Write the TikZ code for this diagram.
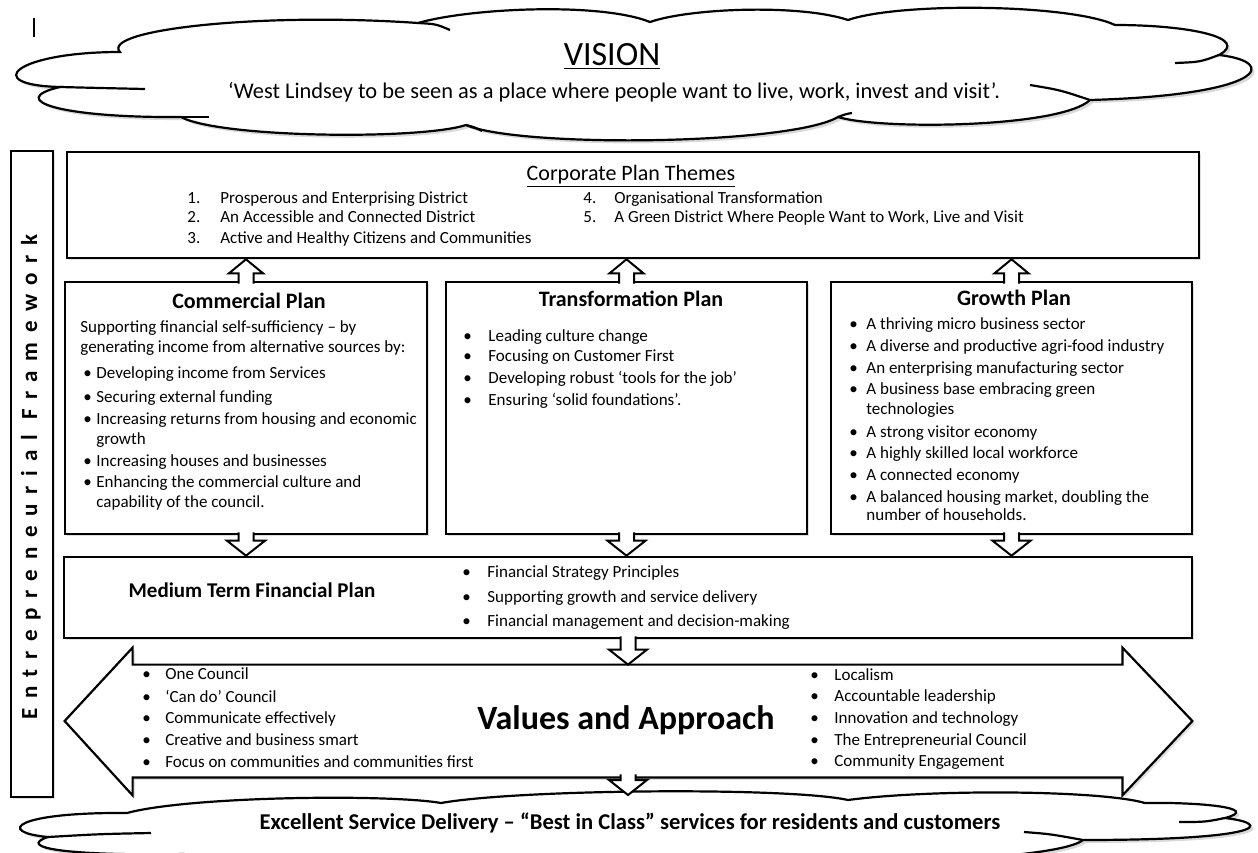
\documentclass[tikz,border=0pt]{standalone}
\usepackage{fontspec}
\setmainfont{Carlito}
\usetikzlibrary{calc,fit,shadows}

\newcommand\uparr[2]{\path[blockarr] ($(#1)+(-7.5,3)$) -- ($(#2)+(-7.5,14)$) -- ($(#2)+(-17,14)$) -- (#2) -- ($(#2)+(17,14)$) -- ($(#2)+(7.5,14)$) -- ($(#1)+(7.5,3)$);}
\newcommand\downarr[2]{\path[blockarr] ($(#1)+(-7.5,-3)$) -- ($(#2)+(-7.5,-15)$) -- ($(#2)+(-19,-15)$) -- (#2) -- ($(#2)+(19,-15)$) -- ($(#2)+(7.5,-15)$) -- ($(#1)+(7.5,-3)$);}

\begin{document}
\begin{tikzpicture}[x=0.5pt,y=-0.5pt,
  box/.style={draw, line width=1.3pt, fill=white, inner sep=0pt, drop shadow={opacity=0.25, shadow xshift=1.2pt, shadow yshift=-1.2pt}},
  blockarr/.style={fill=white, draw, line width=1pt},
  bigarrow/.style={fill=white, draw, line width=1.1pt, drop shadow={opacity=0.25, shadow xshift=1.2pt, shadow yshift=-1.2pt}},
  cloudline/.style={draw, fill=white, line width=1.1pt, drop shadow={opacity=0.3, shadow xshift=1.5pt, shadow yshift=-1.5pt}},
  tail/.style={line width=1.1pt},
  txt/.style={anchor=base west, inner sep=0pt, font=\fontsize{8.5}{10}\selectfont, yshift=-2.4pt},
  ttl/.style={anchor=base, inner sep=0pt, font=\fontsize{11}{13}\selectfont\bfseries}]
\useasboundingbox (0,0) rectangle (1258,852);
\clip (0,0) rectangle (1258,852);
\draw[line width=0.6pt] (34,18) -- (34,37);
% vision cloud
\path[cloudline] (120,52) .. controls (100,30) and (260,12) .. (418,23)
  .. controls (470,8) and (600,2) .. (650,22)
  .. controls (690,8) and (800,4) .. (848,20)
  .. controls (900,2) and (1070,4) .. (1115,25)
  .. controls (1190,25) and (1250,38) .. (1219,55)
  .. controls (1280,62) and (1265,95) .. (1090,100)
  .. controls (1060,128) and (880,130) .. (838,117)
  .. controls (790,145) and (520,148) .. (466,125)
  .. controls (420,140) and (220,138) .. (181,117)
  .. controls (60,118) and (5,100) .. (60,87)
  .. controls (-20,85) and (15,52) .. (120,52) -- cycle;
\draw[tail] (418,23) .. controls (436,24) .. (450,30);
\draw[tail] (1219,55) .. controls (1200,62) .. (1175,63);
\draw[tail] (1090,100) .. controls (1060,90) .. (1030,85);
\draw[tail] (838,117) .. controls (846,114) .. (852,113);
\draw[tail] (466,125) .. controls (474,127) .. (482,131);
\draw[tail] (181,117) .. controls (195,117) .. (209,117);
\draw[tail] (60,87) .. controls (100,88) .. (145,89);
% service cloud
\path[cloudline] (127,813) .. controls (190,796) and (390,794) .. (441,803)
  .. controls (520,789) and (790,787) .. (848,800)
  .. controls (930,789) and (1100,790) .. (1145,803)
  .. controls (1200,802) and (1262,808) .. (1225,818)
  .. controls (1275,824) and (1262,840) .. (1083,840)
  .. controls (1050,866) and (720,868) .. (620,860)
  .. controls (520,868) and (240,866) .. (184,854)
  .. controls (70,856) and (15,848) .. (48,837)
  .. controls (-5,832) and (15,812) .. (127,813) -- cycle;
\draw[tail] (1225,818) .. controls (1205,822) .. (1179,822);
\draw[tail] (1083,840) .. controls (1050,834) .. (1024,832);
\draw[tail] (48,837) .. controls (100,834) .. (151,833);
\coordinate (svctop) at (628,795);
% boxes
\node[box, fit={(11,151) (53,797)}] (frame) {};
\node[box, fit={(67,152) (1199,258)}] (corp) {};
\node[box, fit={(65,282) (427,534)}] (comm) {};
\node[box, fit={(446,282) (807,534)}] (trans) {};
\node[box, fit={(831,282) (1192,534)}] (growth) {};
\node[box, fit={(64,557) (1192,638)}] (mtfp) {};
\node[fit={(133,665) (1122,777)}, inner sep=0pt] (values) {};
\path[bigarrow] (values.north west) -- ++(0,-17) -- ($(values.west)+(-68,0)$) -- ($(values.south west)+(0,18)$)
  -- (values.south west) -- (values.south east) -- ++(0,18) -- ($(values.east)+(70,0)$)
  -- ($(values.north east)+(0,-17)$) -- (values.north east) -- cycle;
% arrows
\uparr{comm.north}{corp.south -| comm.north}
\uparr{trans.north}{corp.south -| trans.north}
\uparr{growth.north}{corp.south -| growth.north}
\downarr{comm.south}{mtfp.north -| comm.south}
\downarr{trans.south}{mtfp.north -| trans.south}
\downarr{growth.south}{mtfp.north -| growth.south}
\downarr{mtfp.south}{values.north -| mtfp.south}
\downarr{values.south -| svctop}{svctop}
% texts
\node[anchor=base, inner sep=0pt, font=\fontsize{17}{20}\selectfont] (vision) at (612,65) {\underline{VISION}};
\node[anchor=base, inner sep=0pt, font=\fontsize{11.2}{13}\selectfont] (quote) at (614,98) {‘West Lindsey to be seen as a place where people want to live, work, invest and visit’.};
\node[rotate=90, anchor=base, inner sep=0pt, font=\fontsize{11.5}{12}\selectfont\bfseries\addfontfeature{LetterSpace=42}] (fwork) at (37,477) {Entrepreneurial Framework};
\node[anchor=base, inner sep=0pt, font=\fontsize{11}{13}\selectfont] (corptitle) at (631,180) {\underline{Corporate Plan Themes}};
\foreach \y/\n/\t in {199/1/Prosperous and Enterprising District, 218/2/An Accessible and Connected District, 239/3/Active and Healthy Citizens and Communities}{
  \node[txt] (cn\n) at (187,\y) {\n.};
  \node[txt] (ct\n) at (220,\y) {\t};
}
\foreach \y/\n/\t in {199/4/Organisational Transformation, 218/5/{A Green District Where People Want to Work, Live and Visit}}{
  \node[txt] (cn\n) at (583,\y) {\n.};
  \node[txt] (ct\n) at (614,\y) {\t};
}
% commercial
\node[ttl] (commtitle) at (249,308) {Commercial Plan};
\node[txt] (ci1) at (80,328) {Supporting financial self-sufficiency – by};
\node[txt] (ci2) at (80,348) {generating income from alternative sources by:};
\foreach \y in {374,398,420,462,483} \node[txt] (cd\y) at (83,\y) {\textbullet};
\foreach \y/\t in {374/Developing income from Services, 398/Securing external funding, 420/Increasing returns from housing and economic, 440/growth, 462/Increasing houses and businesses, 483/Enhancing the commercial culture and, 503/capability of the council.}
  \node[txt] (ct\y) at (96,\y) {\t};
% transformation
\node[ttl] (transtitle) at (631,306) {Transformation Plan};
\foreach \y/\t in {337/Leading culture change, 357/Focusing on Customer First, 379/Developing robust ‘tools for the job’, 401/Ensuring ‘solid foundations’.}{
  \node[txt] (td\y) at (463,\y) {\textbullet};
  \node[txt] (tt\y) at (488,\y) {\t};
}
% growth
\node[ttl] (growthtitle) at (1014,305) {Growth Plan};
\foreach \y in {325,347,369,390,433,454,476,498} \node[txt] (gd\y) at (849,\y) {\textbullet};
\foreach \y/\t in {325/A thriving micro business sector, 347/A diverse and productive agri-food industry, 369/An enterprising manufacturing sector, 390/A business base embracing green, 410/technologies, 433/A strong visitor economy, 454/A highly skilled local workforce, 476/A connected economy, 498/{A balanced housing market, doubling the}, 516/number of households.}
  \node[txt] (gt\y) at (866,\y) {\t};
% medium term financial plan
\node[ttl, font=\fontsize{10.5}{12}\selectfont\bfseries] (mtfptitle) at (252,597) {Medium Term Financial Plan};
\foreach \y/\t in {573/Financial Strategy Principles, 598/Supporting growth and service delivery, 622/Financial management and decision-making}{
  \node[txt] (md\y) at (462,\y) {\textbullet};
  \node[txt] (mt\y) at (487,\y) {\t};
}
% values
\node[ttl, font=\fontsize{17}{20}\selectfont\bfseries] (valtitle) at (626,729) {Values and Approach};
\foreach \y/\t in {675/One Council, 698/‘Can do’ Council, 719/Communicate effectively, 741/Creative and business smart, 763/Focus on communities and communities first}{
  \node[txt] (vd\y) at (142,\y) {\textbullet};
  \node[txt] (vt\y) at (165,\y) {\t};
}
\foreach \y/\t in {676/Localism, 697/Accountable leadership, 719/Innovation and technology, 741/The Entrepreneurial Council, 762/Community Engagement}{
  \node[txt] (wd\y) at (810,\y) {\textbullet};
  \node[txt] (wt\y) at (834,\y) {\t};
}
\node[anchor=base, inner sep=0pt, font=\fontsize{11.3}{13}\selectfont\bfseries] (service) at (630,829) {Excellent Service Delivery – “Best in Class” services for residents and customers};
\end{tikzpicture}
\end{document}
